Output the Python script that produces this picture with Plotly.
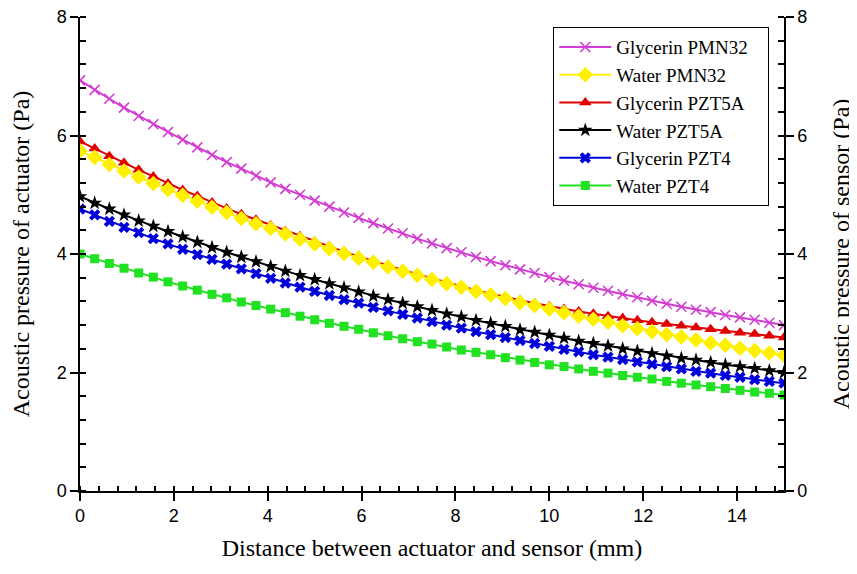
import plotly.graph_objects as go

# distance (mm)
distance = [0.0, 0.3125, 0.625, 0.9375, 1.25, 1.5625, 1.875, 2.1875, 2.5, 2.8125,
            3.125, 3.4375, 3.75, 4.0625, 4.375, 4.6875, 5.0, 5.3125, 5.625, 5.9375,
            6.25, 6.5625, 6.875, 7.1875, 7.5, 7.8125, 8.125, 8.4375, 8.75, 9.0625,
            9.375, 9.6875, 10.0, 10.3125, 10.625, 10.9375, 11.25, 11.5625, 11.875, 12.1875,
            12.5, 12.8125, 13.125, 13.4375, 13.75, 14.0625, 14.375, 14.6875, 15.0]

glycerin_pmn32 = [6.93, 6.77, 6.62, 6.47, 6.33, 6.19, 6.06, 5.93, 5.80, 5.67,
                  5.55, 5.44, 5.32, 5.21, 5.10, 5.00, 4.90, 4.80, 4.70, 4.61,
                  4.52, 4.43, 4.35, 4.26, 4.18, 4.10, 4.03, 3.95, 3.88, 3.81,
                  3.74, 3.68, 3.61, 3.55, 3.49, 3.43, 3.38, 3.32, 3.27, 3.21,
                  3.16, 3.11, 3.06, 3.02, 2.97, 2.93, 2.89, 2.84, 2.80]

water_pmn32 = [5.74, 5.63, 5.51, 5.40, 5.30, 5.19, 5.09, 4.99, 4.89, 4.79,
               4.70, 4.60, 4.51, 4.43, 4.34, 4.25, 4.17, 4.09, 4.01, 3.93,
               3.86, 3.78, 3.71, 3.64, 3.57, 3.50, 3.44, 3.37, 3.31, 3.25,
               3.18, 3.13, 3.07, 3.01, 2.95, 2.90, 2.85, 2.79, 2.74, 2.69,
               2.64, 2.60, 2.55, 2.50, 2.46, 2.41, 2.37, 2.33, 2.29]

glycerin_pzt5a = [5.90, 5.78, 5.65, 5.54, 5.42, 5.31, 5.19, 5.08, 4.98, 4.87,
                  4.77, 4.67, 4.58, 4.48, 4.39, 4.30, 4.21, 4.13, 4.04, 3.96,
                  3.88, 3.81, 3.73, 3.66, 3.59, 3.52, 3.45, 3.39, 3.33, 3.27,
                  3.22, 3.17, 3.12, 3.07, 3.03, 2.99, 2.95, 2.92, 2.88, 2.85,
                  2.82, 2.79, 2.76, 2.73, 2.70, 2.67, 2.65, 2.62, 2.59]

water_pzt5a = [4.97, 4.86, 4.76, 4.66, 4.56, 4.47, 4.38, 4.29, 4.20, 4.11,
               4.03, 3.95, 3.87, 3.79, 3.71, 3.64, 3.57, 3.50, 3.43, 3.36,
               3.29, 3.23, 3.17, 3.11, 3.05, 2.99, 2.94, 2.88, 2.83, 2.78,
               2.72, 2.68, 2.63, 2.58, 2.53, 2.49, 2.45, 2.40, 2.36, 2.32,
               2.28, 2.24, 2.21, 2.17, 2.13, 2.10, 2.07, 2.03, 2.00]

glycerin_pzt4 = [4.76, 4.66, 4.55, 4.45, 4.36, 4.26, 4.17, 4.08, 3.99, 3.91,
                 3.83, 3.75, 3.67, 3.59, 3.51, 3.44, 3.37, 3.30, 3.23, 3.17,
                 3.10, 3.04, 2.98, 2.92, 2.86, 2.80, 2.75, 2.69, 2.64, 2.59,
                 2.54, 2.49, 2.44, 2.39, 2.35, 2.30, 2.26, 2.22, 2.18, 2.14,
                 2.10, 2.06, 2.02, 1.99, 1.95, 1.92, 1.88, 1.85, 1.82]

water_pzt4 = [4.00, 3.92, 3.84, 3.76, 3.68, 3.61, 3.53, 3.46, 3.39, 3.32,
              3.26, 3.19, 3.13, 3.07, 3.01, 2.95, 2.89, 2.83, 2.78, 2.73,
              2.67, 2.62, 2.57, 2.52, 2.48, 2.43, 2.38, 2.34, 2.30, 2.25,
              2.21, 2.17, 2.13, 2.10, 2.06, 2.02, 1.99, 1.95, 1.92, 1.89,
              1.85, 1.82, 1.79, 1.76, 1.73, 1.70, 1.67, 1.65, 1.62]

x_ticks = [0, 2, 4, 6, 8, 10, 12, 14]
y_ticks = [0, 2, 4, 6, 8]

PAD = "\u00a0\u00a0\u00a0"

series = [
    ("Glycerin PMN32", glycerin_pmn32, "#D23CD2", dict(symbol="x-thin", size=10, line=dict(width=1.6, color="#D23CD2"))),
    ("Water PMN32", water_pmn32, "#FFF000", dict(symbol="diamond", size=12)),
    ("Glycerin PZT5A", glycerin_pzt5a, "#E00000", dict(symbol="triangle-up", size=11)),
    ("Water PZT5A", water_pzt5a, "#000000", dict(symbol="star", size=11)),
    ("Glycerin PZT4", glycerin_pzt4, "#0000D8", dict(symbol="x", size=10)),
    ("Water PZT4", water_pzt4, "#22E022", dict(symbol="square", size=9)),
]

fig = go.Figure()
for name, vals, color, mk in reversed(series):
    marker = dict(color=color, **mk)
    fig.add_trace(go.Scatter(x=distance, y=vals, name=name + PAD, mode="lines+markers",
                             line=dict(color=color, width=2), marker=marker))

# invisible trace to activate right axis
fig.add_trace(go.Scatter(x=[0], y=[0], yaxis="y2", mode="markers",
                         marker=dict(opacity=0), showlegend=False, hoverinfo="skip"))

tick_font = dict(family="Liberation Sans, Arial", size=18, color="black")
title_font = dict(family="Liberation Serif, Times New Roman", size=24, color="black")

yaxis_common = dict(
    range=[0, 8], tickvals=y_ticks, ticks="outside", ticklen=8, tickwidth=1.5,
    tickcolor="black", showline=True, linecolor="black", linewidth=1.5,
    showgrid=False, zeroline=False, tickfont=tick_font, automargin=False,
    ticklabeloverflow="allow",
    minor=dict(ticks="inside", dtick=0.4, tick0=0, ticklen=6, tickwidth=1.5,
               tickcolor="black", showgrid=False),
)

fig.update_layout(
    width=849, height=558,
    margin=dict(l=72, r=73, t=9, b=75),
    paper_bgcolor="white", plot_bgcolor="white",
    showlegend=True,
    legend=dict(x=0.672, y=0.979, xanchor="left", yanchor="top",
                traceorder="reversed", bgcolor="white", bordercolor="black",
                borderwidth=1.2, font=dict(family="Liberation Serif, Times New Roman", size=19, color="black"),
                tracegroupgap=0, itemwidth=52),
    xaxis=dict(range=[0, 15], tickvals=x_ticks, ticks="outside", ticklen=8, tickwidth=1.5,
               tickcolor="black", showline=True, linecolor="black", linewidth=1.5,
               showgrid=False, zeroline=False, tickfont=tick_font, automargin=False,
               ticklabeloverflow="allow",
               title=dict(text="Distance between actuator and sensor (mm)", font=title_font, standoff=14),
               minor=dict(ticks="inside", dtick=0.4, tick0=0, ticklen=5, tickwidth=1.5,
                          tickcolor="black", showgrid=False)),
    yaxis=dict(title=dict(text="Acoustic pressure of actuator (Pa)", font=title_font, standoff=22),
               **yaxis_common),
    yaxis2=dict(overlaying="y", side="right", anchor="x",
                title=dict(text="Acoustic pressure of sensor (Pa)", font=title_font, standoff=26),
                **yaxis_common),
)

fig.write_html("out.html")
